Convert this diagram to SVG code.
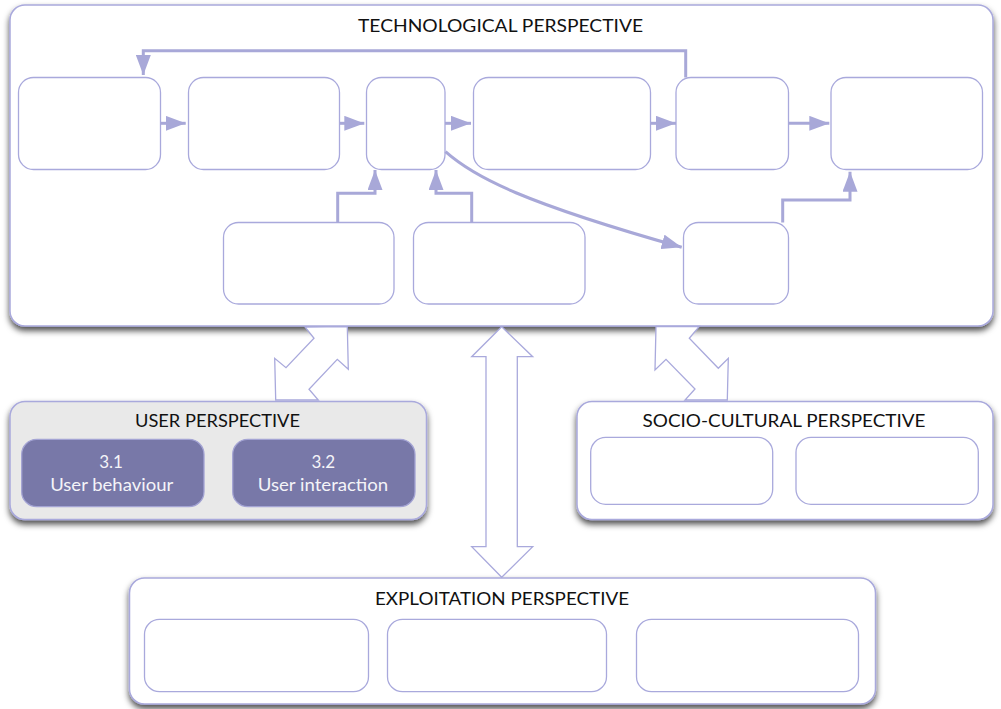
<svg xmlns="http://www.w3.org/2000/svg" width="1001" height="709" viewBox="0 0 1001 709">
<style>
.panel{fill:#ffffff;stroke:#a9a9dc;stroke-width:1.5;filter:url(#sh)}
.panel.grey{fill:#e9e9e9}
.node{fill:#ffffff;stroke:#a9a9dc;stroke-width:1.3}
.dark{fill:#7878a8;stroke:#a4a4d4;stroke-width:1.3}
.con{fill:none;stroke:#a8a8d8;stroke-width:3}
.big{fill:#ffffff;stroke:#a9a9dc;stroke-width:1.3;stroke-linejoin:miter}
.title{font-family:Lato,"Open Sans","Liberation Sans",sans-serif;font-size:18px;fill:#111111;text-anchor:middle}
.lbl{font-family:Lato,"Open Sans","Liberation Sans",sans-serif;font-size:17px;fill:#f4f4f8;text-anchor:middle}
</style>
<defs>
<filter id="sh" x="-5%" y="-10%" width="110%" height="125%">
<feDropShadow dx="0" dy="4" stdDeviation="3" flood-color="#000000" flood-opacity="0.7"/>
</filter>
<marker id="ah" viewBox="0 0 20 15" refX="20" refY="7.5" markerWidth="20" markerHeight="15" markerUnits="userSpaceOnUse" orient="auto">
<path d="M0,0 L20,7.5 L0,15 Z" fill="#a8a8d8"/>
</marker>
</defs>

<g id="technological">
<rect class="panel" x="10" y="5" width="983" height="321" rx="15"/>
<text class="title" x="500.5" y="31.5" textLength="285" lengthAdjust="spacingAndGlyphs">TECHNOLOGICAL PERSPECTIVE</text>
</g>
<g id="user">
<rect class="panel grey" x="10" y="401.5" width="416.5" height="118" rx="15"/>
<text class="title" x="217.5" y="427" textLength="165" lengthAdjust="spacingAndGlyphs">USER PERSPECTIVE</text>
</g>
<g id="sociocultural">
<rect class="panel" x="577" y="401.5" width="416" height="118" rx="15"/>
<text class="title" x="784" y="427" textLength="283" lengthAdjust="spacingAndGlyphs">SOCIO-CULTURAL PERSPECTIVE</text>
</g>
<g id="exploitation">
<rect class="panel" x="129.5" y="578" width="746" height="126" rx="15"/>
<text class="title" x="502" y="605" textLength="254" lengthAdjust="spacingAndGlyphs">EXPLOITATION PERSPECTIVE</text>
</g>

<g id="perspective-links">
<polygon class="big" points="275.7,400 274.7,358.3 286,367.7 314,338.3 305,327 347.3,326.7 348.3,369.3 337.3,359.3 309,389.3 318.3,400"/>
<polygon class="big" points="656,326.5 655,370 666,359.3 695,389 685,400 727.3,400 728.3,358.3 718.3,368.3 689.3,338.3 699.3,326.5"/>
<polygon class="big" points="501.7,326.7 471.7,356.7 486,356.7 486,546.7 471.7,546.7 501.7,577.3 532.7,546.7 517.3,546.7 517.3,356.7 532.7,356.7"/>
</g>

<g id="t1"><rect class="node" x="18.5" y="77.5" width="142" height="92" rx="15"/></g>
<g id="t2"><rect class="node" x="188.5" y="77.5" width="151" height="92" rx="15"/></g>
<g id="t3"><rect class="node" x="366.5" y="77.5" width="78.5" height="92" rx="15"/></g>
<g id="t4"><rect class="node" x="473.5" y="77.5" width="177" height="92" rx="15"/></g>
<g id="t5"><rect class="node" x="676" y="77.5" width="112.5" height="92" rx="15"/></g>
<g id="t6"><rect class="node" x="831" y="77.5" width="151.5" height="92" rx="15"/></g>
<g id="t7"><rect class="node" x="223.5" y="222.5" width="170.5" height="81.5" rx="15"/></g>
<g id="t8"><rect class="node" x="413.5" y="222.5" width="171.5" height="81.5" rx="15"/></g>
<g id="t9"><rect class="node" x="683.5" y="222.5" width="105" height="81.5" rx="15"/></g>

<g id="u1">
<rect class="dark" x="21.7" y="439.3" width="182.3" height="67.4" rx="15"/>
<text class="lbl" x="111" y="468">3.1</text>
<text class="lbl" x="111.7" y="491" textLength="123" lengthAdjust="spacingAndGlyphs">User behaviour</text>
</g>
<g id="u2">
<rect class="dark" x="232.7" y="439.3" width="182.3" height="67.4" rx="15"/>
<text class="lbl" x="323.3" y="468">3.2</text>
<text class="lbl" x="323" y="491" textLength="130.5" lengthAdjust="spacingAndGlyphs">User interaction</text>
</g>

<g id="s1"><rect class="node" x="590.7" y="437.3" width="182" height="67" rx="15"/></g>
<g id="s2"><rect class="node" x="796" y="437.3" width="182.3" height="67" rx="15"/></g>

<g id="e1"><rect class="node" x="144.5" y="619.3" width="224" height="72.4" rx="15"/></g>
<g id="e2"><rect class="node" x="387.5" y="619.3" width="219" height="72.4" rx="15"/></g>
<g id="e3"><rect class="node" x="636.5" y="619.3" width="222" height="72.4" rx="15"/></g>

<g id="connectors">
<path class="con" marker-end="url(#ah)" d="M160.7,123.3 H185.7"/>
<path class="con" marker-end="url(#ah)" d="M339.5,123.3 H364.3"/>
<path class="con" marker-end="url(#ah)" d="M445,123.3 H471"/>
<path class="con" marker-end="url(#ah)" d="M650.5,123.3 H676"/>
<path class="con" marker-end="url(#ah)" d="M788.5,123.3 H829.3"/>
<path class="con" marker-end="url(#ah)" d="M685.7,77.5 V50.7 H143.3 V75"/>
<path class="con" marker-end="url(#ah)" d="M337.7,222.5 V193.3 H375 V170"/>
<path class="con" marker-end="url(#ah)" d="M471.7,222.5 V193.3 H436 V170"/>
<path class="con" marker-end="url(#ah)" d="M782.7,222.5 V200 H850 V171.7"/>
<path class="con" marker-end="url(#ah)" d="M445.5,151.7 C475,178 525,203 681.7,247.3"/>
</g>
</svg>
